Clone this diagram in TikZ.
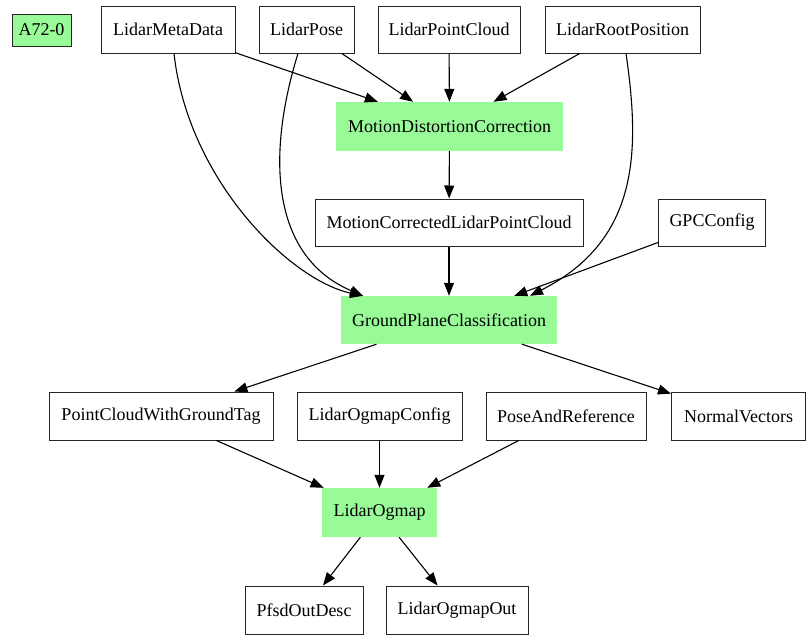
\documentclass[tikz,border=0pt]{standalone}
\usepackage{fontspec}
\setmainfont{Liberation Serif}
\usetikzlibrary{arrows.meta,calc}
\definecolor{palegreen}{HTML}{98FB98}
\begin{document}
\begin{tikzpicture}[x=1pt,y=-1pt,
  every node/.style={font=\fontsize{18}{21}\selectfont, inner sep=0pt, anchor=center},
  databox/.style={draw=black!85, line width=1pt, minimum height=47pt},
  procbox/.style={fill=palegreen, minimum height=49pt},
  tagbox/.style={draw=black!85, fill=palegreen, line width=1pt, minimum width=59pt, minimum height=32pt},
  link/.style={line width=1.1pt, -{Triangle[length=13pt,width=10pt]}}
]
\useasboundingbox (0,0) rectangle (811,640);
\node[tagbox] (tag) at (41.5,30) {A72-0};
\node[databox, minimum width=134pt] (lmd) at (168,29.5) {LidarMetaData};
\node[databox, minimum width=95pt] (lpose) at (306.5,29.5) {LidarPose};
\node[databox, minimum width=142pt] (lpc) at (449,29.5) {LidarPointCloud};
\node[databox, minimum width=155pt] (lrp) at (622.5,29.5) {LidarRootPosition};
\node[procbox, minimum width=227pt] (mdc) at (449.5,126.5) {MotionDistortionCorrection};
\node[databox, minimum width=268pt] (mclpc) at (449,222.5) {MotionCorrectedLidarPointCloud};
\node[databox, minimum width=107pt] (gpccfg) at (712,222.5) {GPCConfig};
\node[procbox, minimum width=216pt, minimum height=48pt] (gpc) at (449,320) {GroundPlaneClassification};
\node[databox, minimum width=224pt, minimum height=48pt] (pcwgt) at (161,416) {PointCloudWithGroundTag};
\node[databox, minimum width=165pt, minimum height=48pt] (locfg) at (379.5,416) {LidarOgmapConfig};
\node[databox, minimum width=160pt, minimum height=48pt] (par) at (566,416) {PoseAndReference};
\node[databox, minimum width=134pt, minimum height=48pt] (nv) at (738.5,416) {NormalVectors};
\node[procbox, minimum width=115pt] (lo) at (379.5,512.5) {LidarOgmap};
\node[databox, minimum width=118pt, minimum height=48pt] (pfsd) at (304,610) {PfsdOutDesc};
\node[databox, minimum width=142pt, minimum height=48pt] (loo) at (457,610) {LidarOgmapOut};

\draw[link] (lmd) -- (mdc);
\draw[link] (lpose) -- (mdc);
\draw[link] (lpc) -- (mdc);
\draw[link] (lrp) -- (mdc);
\draw[link] (mdc) -- (mclpc);
\draw[link] (mclpc) -- (gpc);
\draw[link] (gpccfg) -- (gpc);
\draw[link] ($(lmd.south)+(6,0)$) .. controls (188,180) and (290,280) .. ($(gpc.north)+(-86,0)$);
\draw[link] ($(lpose.south)+(-8.5,0)$) .. controls (268,150) and (268,255) .. ($(gpc.north)+(-86,0)$);
\draw[link] ($(lrp.south)+(3.5,0)$) .. controls (640,150) and (640,240) .. ($(gpc.north)+(81,0)$);
\draw[link] (gpc) -- (pcwgt);
\draw[link] (gpc) -- (nv);
\draw[link] (pcwgt) -- (lo);
\draw[link] (locfg) -- (lo);
\draw[link] (par) -- (lo);
\draw[link] (lo) -- (pfsd);
\draw[link] (lo) -- (loo);
\end{tikzpicture}
\end{document}
